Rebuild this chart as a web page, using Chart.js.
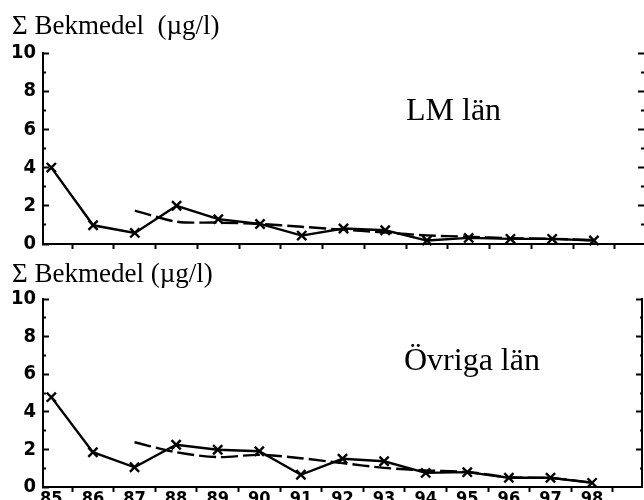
<!DOCTYPE html>
<html>
<head>
<meta charset="utf-8">
<script src="https://cdn.jsdelivr.net/npm/chart.js@4/dist/chart.umd.min.js"></script>
<style>
  html, body { margin: 0; padding: 0; background: #fff; overflow: hidden; }
  body { width: 644px; height: 500px; position: relative; }
  canvas { position: absolute; left: 0; }
  #lmCanvas { top: 0; }
  #ovrCanvas { top: 260px; }
  .ttl { position: absolute; font-family: "Liberation Serif", "Times New Roman", serif; color: #000; white-space: pre; line-height: 1; }
  .axisTitle { font-size: 27px; left: 12px; }
  .panelName { font-size: 32px; }
</style>
</head>
<body>
<canvas id="lmCanvas" width="644" height="262"></canvas>
<canvas id="ovrCanvas" width="644" height="260"></canvas>
<div class="ttl axisTitle" style="top:12px">Σ Bekmedel  (µg/l)</div>
<div class="ttl axisTitle" style="top:260px">Σ Bekmedel (µg/l)</div>
<div class="ttl panelName" style="top:93px; left:406px">LM län</div>
<div class="ttl panelName" style="top:343px; left:404px">Övriga län</div>

<script>
// --- data ---
const years = [85, 86, 87, 88, 89, 90, 91, 92, 93, 94, 95, 96, 97, 98];

// LM län: yearly values and the smoothed (dashed) trend starting 87
const lmYearly = [4.0, 0.98, 0.58, 2.0, 1.3, 1.05, 0.44, 0.81, 0.72, 0.18, 0.32, 0.27, 0.27, 0.18];
const lmTrend  = [null, null, 1.75, 1.17, 1.12, 1.05, 0.9, 0.75, 0.6, 0.45, 0.38, 0.3, 0.27, 0.2];

// Övriga län
const ovrYearly = [4.78, 1.85, 1.05, 2.25, 1.98, 1.9, 0.65, 1.5, 1.37, 0.75, 0.79, 0.49, 0.49, 0.22];
const ovrTrend  = [null, null, 2.38, 1.85, 1.59, 1.71, 1.53, 1.27, 1.02, 0.88, 0.8, 0.52, 0.47, 0.24];

const yTicks = [0, 1, 2, 3, 4, 5, 6, 7, 8, 9, 10];
const xMin = 84.8, xMax = 99.2;

// tick marks sit between the years, labels sit on the years
const xTickValues = [];
years.forEach(y => { xTickValues.push(y); xTickValues.push(y + 0.5); });

const numFont = '"Liberation Sans Narrow", "DejaVu Sans Condensed", sans-serif';

function toPoints(vals) {
  return years.map((y, i) => ({ x: y, y: vals[i] }));
}

function buildPanel(canvasId, yearly, trend, opts) {
  const ctx = document.getElementById(canvasId).getContext('2d');
  return new Chart(ctx, {
    type: 'line',
    data: {
      datasets: [
        {
          data: toPoints(yearly),
          borderColor: '#000',
          borderWidth: 2.4,
          pointStyle: 'crossRot',
          pointRadius: 6.5,
          pointBorderWidth: 2.4,
          pointBorderColor: '#000',
          tension: 0,
          clip: false
        },
        {
          data: toPoints(trend),
          borderColor: '#000',
          borderWidth: 2.4,
          borderDash: [17, 5],
          pointRadius: 0,
          tension: 0.3,
          spanGaps: false,
          clip: false
        }
      ]
    },
    options: {
      responsive: false,
      animation: false,
      layout: { autoPadding: false, padding: { top: opts.padTop, left: 0, right: 0, bottom: 0 } },
      plugins: { legend: { display: false }, tooltip: { enabled: false } },
      scales: {
        x: {
          type: 'linear',
          min: xMin,
          max: xMax,
          afterBuildTicks: s => { s.ticks = xTickValues.map(v => ({ value: v })); },
          afterFit: s => { s.height = opts.xHeight; },
          border: { display: true, color: '#000', width: 2 },
          grid: {
            drawOnChartArea: false,
            drawTicks: true,
            tickLength: 5,
            tickWidth: 2,
            tickColor: c => (c.tick && Number.isInteger(c.tick.value)) ? 'rgba(0,0,0,0)' : '#000'
          },
          ticks: {
            display: opts.showYears,
            autoSkip: false,
            maxRotation: 0,
            padding: -3,
            color: '#000',
            font: { family: numFont, size: 18, weight: 'bold' },
            callback: v => Number.isInteger(v) ? String(v) : ''
          }
        },
        y: {
          position: 'left',
          min: 0,
          max: 10,
          afterBuildTicks: s => { s.ticks = yTicks.map(v => ({ value: v })); },
          // fixed width; labels may overhang the plot edges without shrinking it
          afterFit: s => { s.width = 43; s.paddingTop = 0; s.paddingBottom = 0; },
          border: { display: true, color: '#000', width: 2 },
          grid: {
            drawOnChartArea: false,
            drawTicks: true,
            tickLength: -6,
            tickWidth: 2,
            tickColor: '#000',
            // odd values get a shorter mark next to the axis
            tickBorderDash: c => (c.tick && c.tick.value % 2 === 1) ? [3, 30] : [],
            tickBorderDashOffset: c => (c.tick && c.tick.value % 2 === 1) ? 30 : 0
          },
          ticks: {
            autoSkip: false,
            padding: 13,
            color: '#000',
            font: { family: numFont, size: 20, weight: 'bold' },
            callback: v => (v % 2 === 0) ? String(v) : ''
          }
        },
        yRight: {
          position: 'right',
          min: 0,
          max: 10,
          afterBuildTicks: s => { s.ticks = yTicks.filter(v => v > 0).map(v => ({ value: v })); },
          afterFit: s => { s.width = opts.rightWidth; },
          border: { display: opts.rightBorder, color: '#000', width: 2 },
          grid: {
            drawOnChartArea: false,
            drawTicks: true,
            tickLength: -6,
            tickWidth: 2,
            tickColor: '#000',
            tickBorderDash: c => (c.tick && c.tick.value % 2 === 1) ? [3, 30] : []
          },
          ticks: { display: false }
        }
      }
    }
  });
}

buildPanel('lmCanvas', lmYearly, lmTrend, { padTop: 53, xHeight: 18, showYears: false, rightWidth: 0, rightBorder: false });
buildPanel('ovrCanvas', ovrYearly, ovrTrend, { padTop: 39, xHeight: 33, showYears: true, rightWidth: 2, rightBorder: true });
</script>
</body>
</html>
